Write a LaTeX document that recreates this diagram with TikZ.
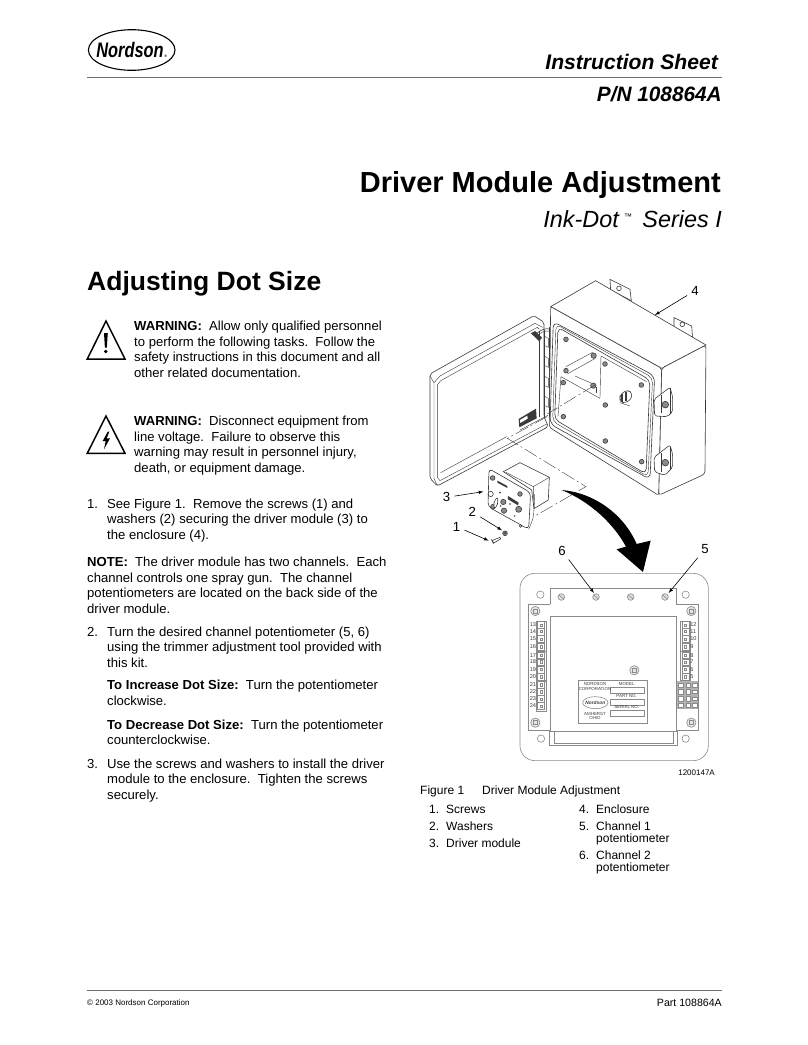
\documentclass[tikz,border=0pt]{standalone}
\usepackage{fontspec}
\setmainfont{Liberation Sans}
\usetikzlibrary{positioning}
\usetikzlibrary{arrows}
\definecolor{inkgray}{HTML}{3a3a3a}
\definecolor{rulegray}{HTML}{6e6e6e}
\definecolor{panelgray}{HTML}{8a8a8a}
\tikzset {
  % running text, one node per line
  body/.style={anchor=base west, inner sep=0pt, font=\fontsize{13.1}{16}\selectfont},
  capt/.style={anchor=base west, inner sep=0pt, font=\fontsize{12}{15}\selectfont},
  head/.style={anchor=base east, inner sep=0pt},
  callout/.style={inner sep=4pt, font=\fontsize{13.2}{16}\selectfont},
  % line work of the drawing
  ink/.style={draw=inkgray, line width=0.6pt},
  thinink/.style={draw=inkgray, line width=0.4pt},
  pointer/.style={-latex, draw=black, line width=0.6pt},
  centerline/.style={draw=inkgray, line width=0.4pt, dash pattern=on 14pt off 3pt on 2pt off 3pt},
  panel/.style={draw=panelgray, line width=0.6pt},
  % terminal of the strips in the lower drawing
  term/.style={draw=panelgray, line width=0.4pt, minimum size=7.2pt, inner sep=0pt,
    path picture={\draw[panelgray, line width=0.3pt] (path picture bounding box.center) +(-1.3pt,-1.3pt) rectangle +(1.3pt,1.3pt);}},
  tnum/.style={inner sep=0pt, text=inkgray, font=\fontsize{5.6}{6}\selectfont},
  plate/.style={inner sep=0pt, text=inkgray, font=\fontsize{4.4}{6}\selectfont},
}
\begin{document}
\begin{tikzpicture}[x=1pt,y=-1pt]
  \useasboundingbox (0,0) rectangle (808,1045);

  % header
  \node[inner sep=0pt, font=\bfseries\itshape\fontsize{21}{21}\selectfont] (logo) at (131.7,50)
    {\scalebox{0.78}[1]{Nordson}{\fontsize{3.6}{4}\selectfont\,®}};
  \draw[black, line width=1.1pt] (logo.center) ellipse [x radius=43.3, y radius=20.3];
  \draw[rulegray, line width=0.8pt] (87,77) -- (722,77);
  \node[head, font=\bfseries\itshape\fontsize{21.1}{24}\selectfont] (sheet) at (718,69) {Instruction Sheet};
  \node[head, font=\bfseries\itshape\fontsize{20.8}{24}\selectfont] (pn) at (722,101) {P/N 108864A};
  \node[head, font=\bfseries\fontsize{29}{32}\selectfont] (title) at (721,192) {Driver Module Adjustment};
  \node[head, font=\itshape\fontsize{23.4}{26}\selectfont] (subtitle) at (722,227) {Ink-Dot\,\raisebox{8pt}{\fontsize{8}{8}\selectfont\,™}\, Series I};
  \node[anchor=base west, inner sep=0pt, font=\bfseries\fontsize{26.5}{30}\selectfont] (section) at (87,290) {Adjusting Dot Size};

  % warning signs
  \draw[black, line width=1.5pt, line join=miter] (106,321) -- (125,359) -- (87.3,359) -- cycle;
  \fill[black] (104,333) -- (107.8,333) -- (106.8,347.5) -- (104.9,347.5) -- cycle;
  \fill[black] (105.8,351.5) circle (1.9);
  \draw[black, line width=1.5pt, line join=miter] (106,416) -- (125,453.3) -- (87.3,453.3) -- cycle;
  \fill[black] (107.7,431.7) -- (102.7,441) -- (105.7,441) -- (104,449.3) -- (110,438.3) -- (106.7,438.3) -- (109.3,431.7) -- cycle;

  % left column
  \node[body] (w1) at (134,330.5) {\textbf{WARNING:}\ \ Allow only qualified personnel};
  \node[body] (w2) at (134,346) {to perform the following tasks.\ \ Follow the};
  \node[body] (w3) at (134,361.5) {safety instructions in this document and all};
  \node[body] (w4) at (134,377) {other related documentation.};
  \node[body] (d1) at (134,425.5) {\textbf{WARNING:}\ \ Disconnect equipment from};
  \node[body] (d2) at (134,441) {line voltage.\ \ Failure to observe this};
  \node[body] (d3) at (134,456.5) {warning may result in personnel injury,};
  \node[body] (d4) at (134,472) {death, or equipment damage.};
  \node[body] (n1) at (87,508) {1.};
  \node[body] (s1) at (107,508) {See Figure 1.\ \ Remove the screws (1) and};
  \node[body] (s1b) at (107,523.5) {washers (2) securing the driver module (3) to};
  \node[body] (s1c) at (107,539) {the enclosure (4).};
  \node[body] (note1) at (87,566.5) {\textbf{NOTE:}\ \ The driver module has two channels.\ \ Each};
  \node[body] (note2) at (87,582) {channel controls one spray gun.\ \ The channel};
  \node[body] (note3) at (87,597.5) {potentiometers are located on the back side of the};
  \node[body] (note4) at (87,613) {driver module.};
  \node[body] (n2) at (87,636) {2.};
  \node[body] (s2) at (107,636) {Turn the desired channel potentiometer (5, 6)};
  \node[body] (s2b) at (107,651.5) {using the trimmer adjustment tool provided with};
  \node[body] (s2c) at (107,667) {this kit.};
  \node[body] (inc1) at (107,689) {\textbf{To Increase Dot Size:}\ \ Turn the potentiometer};
  \node[body] (inc2) at (107,705) {clockwise.};
  \node[body] (dec1) at (107,729) {\textbf{To Decrease Dot Size:}\ \ Turn the potentiometer};
  \node[body] (dec2) at (107,744.5) {counterclockwise.};
  \node[body] (n3) at (87,768) {3.};
  \node[body] (s3) at (107,768) {Use the screws and washers to install the driver};
  \node[body] (s3b) at (107,783.5) {module to the enclosure.\ \ Tighten the screws};
  \node[body] (s3c) at (107,799) {securely.};

  % caption
  \node[capt] (fig) at (420,794) {Figure 1};
  \node[capt] (figtitle) at (482,794) {Driver Module Adjustment};
  \node[capt] (c1) at (429,813.5) {1.};
  \node[capt] (c1t) at (446,813.5) {Screws};
  \node[capt] (c2) at (429,830.5) {2.};
  \node[capt] (c2t) at (446,830.5) {Washers};
  \node[capt] (c3) at (429,847.3) {3.};
  \node[capt] (c3t) at (446,847.3) {Driver module};
  \node[capt] (c4) at (579,813.5) {4.};
  \node[capt] (c4t) at (596,813.5) {Enclosure};
  \node[capt] (c5) at (579,830.5) {5.};
  \node[capt] (c5t) at (596,830.5) {Channel 1};
  \node[capt] (c5u) at (596,842.5) {potentiometer};
  \node[capt] (c6) at (579,859.3) {6.};
  \node[capt] (c6t) at (596,859.3) {Channel 2};
  \node[capt] (c6u) at (596,871.3) {potentiometer};
  \node[anchor=base east, inner sep=0pt, font=\fontsize{8}{10}\selectfont] (partcode) at (715,775) {1200147A};

  % footer
  \draw[rulegray, line width=0.8pt] (87,990) -- (722,990);
  \node[anchor=base west, inner sep=0pt, font=\fontsize{8}{10}\selectfont] (copy) at (87,1005) {© 2003 Nordson Corporation};
  \node[anchor=base east, inner sep=0pt, font=\fontsize{10.6}{12}\selectfont] (part) at (722,1006) {Part 108864A};

  % upper drawing, in steps of a third of a pixel
  \begin{scope}[shift={(420,270)},x=0.3333pt,y=-0.3333pt]
    % mounting tabs behind the box
    \draw[ink, fill=white] (570,28) -- (630,58) -- (634,92) -- (572,60) -- cycle;
    \draw[ink] (597,55) circle (7);
    \draw[ink, fill=white] (762,143) -- (815,168) -- (818,205) -- (762,175) -- cycle;
    \draw[ink] (787,163) circle (7);
    % door
    \draw[ink, fill=white, rounded corners=2pt] (30,312) -- (342,137) -- (372,157) -- (372,440) -- (385,470) -- (52,648) -- (30,625) -- cycle;
    \draw[thinink] (42,338) -- (60,318) -- (345,160) -- (368,172);
    \draw[thinink] (30,318) -- (42,338) -- (42,625) -- (52,648);
    \draw[thinink] (52,345) -- (62,332) -- (352,172) -- (358,178);
    \draw[thinink] (52,345) -- (52,622) -- (60,632) -- (380,462);
    \draw[thinink] (62,608) -- (260,500);
    \draw[thinink] (300,480) -- (384,436);
    \fill[inkgray] (296,447) -- (348,416) -- (350,445) -- (298,472) -- cycle;
    \fill[white] (300,450) -- (322,437) -- (323,446) -- (301,459) -- cycle;
    % hinge side of the door
    \draw[thinink] (358,182) -- (358,440);
    \draw[ink] (372,180) -- (372,440);
    \draw[thinink] (387,170) -- (387,445);
    \draw[thinink] (372,198) -- (385,205) -- (385,232) -- (372,226);
    \draw[thinink] (372,258) -- (385,265) -- (385,292) -- (372,286);
    \draw[thinink] (372,318) -- (385,325) -- (385,352) -- (372,346);
    \draw[thinink] (372,378) -- (385,385) -- (385,412) -- (372,406);
    \draw[ink] (345,195) .. controls (370,170) and (395,170) .. (410,195);
    \draw[thinink] (347,200) .. controls (370,178) and (395,178) .. (405,197);
    \fill[inkgray] (333,190) -- (345,183) -- (366,203) -- (358,214) -- cycle;
    % box
    \draw[ink, fill=white] (392,110) -- (527,32) -- (858,225) -- (725,295) -- cycle;
    \draw[ink, fill=white, rounded corners=3pt] (725,295) -- (858,225) -- (855,612) -- (716,676) -- cycle;
    \draw[ink, fill=white, rounded corners=2pt] (392,110) -- (725,295) -- (716,676) -- (388,472) -- cycle;
    % gasket and opening
    \draw[ink, rounded corners=6pt] (400,155) -- (704,318) -- (690,628) -- (390,462) -- cycle;
    \draw[thinink, rounded corners=5pt] (408,163) -- (698,323) -- (684,620) -- (398,454) -- cycle;
    \draw[ink, rounded corners=5pt] (414,172) -- (690,330) -- (678,612) -- (404,448) -- cycle;
    % plate with standoffs and knob
    \draw[thinink] (543,258) -- (680,335) (543,258) -- (540,385) (423,320) -- (540,385) (423,320) -- (414,440);
    \draw[thinink] (438,290) -- (518,247) (442,312) -- (526,265);
    \draw[thinink] (465,318) -- (515,340);
    \draw[thinink] (528,350) -- (528,370);
    \draw[ink, fill=panelgray] (438,302) circle (7);
    \draw[ink, fill=panelgray] (521,257) circle (8);
    \draw[ink, fill=panelgray] (520,347) circle (8);
    \draw[ink, fill=panelgray] (438,208) circle (7);
    \draw[ink, fill=panelgray] (555,282) circle (7);
    \draw[ink, fill=panelgray] (664,345) circle (7);
    \draw[ink, fill=panelgray] (430,338) circle (7);
    \draw[ink, fill=panelgray] (430,440) circle (7);
    \draw[ink, fill=panelgray] (556,405) circle (7);
    \draw[ink, fill=panelgray] (556,513) circle (7);
    \draw[ink, fill=panelgray] (665,575) circle (7);
    \draw[ink, fill=white, rounded corners=3pt] (600,375) -- (620,360) -- (636,368) -- (634,388) -- (612,400) -- (600,392) -- cycle;
    \draw[inkgray, line width=1.4pt] (606,372) -- (606,396) (618,366) -- (618,392);
    \draw[thinink] (600,398) -- (630,408);
    % latches on the right
    \draw[ink, fill=white, rounded corners=2pt] (702,388) -- (750,352) -- (758,380) -- (758,425) -- (742,440) -- (704,438) -- cycle;
    \draw[thinink] (725,375) -- (725,430) (750,355) -- (750,432);
    \draw[ink, fill=panelgray] (736,404) circle (10);
    \draw[ink, fill=white, rounded corners=2pt] (702,562) -- (750,525) -- (758,552) -- (758,592) -- (735,616) -- (704,606) -- cycle;
    \draw[thinink] (725,550) -- (725,605) (750,530) -- (750,600);
    \draw[ink, fill=panelgray] (736,578) circle (10);
    % center lines
    \draw[centerline] (525,345) -- (382,432);
    \draw[centerline] (382,440) -- (262,505) -- (498,650) -- (345,738);
    % driver module
    \draw[ink, fill=white] (250,605) -- (300,578) -- (388,622) -- (385,690) -- (342,716) -- (335,660) -- cycle;
    \draw[thinink] (258,607) -- (340,650) -- (388,622);
    \draw[thinink] (340,650) -- (342,716);
    \draw[ink, fill=white, rounded corners=4pt] (207,596) -- (332,668) -- (326,778) -- (204,710) -- cycle;
    \draw[thinink, rounded corners=4pt] (340,666) -- (345,675) -- (340,745) -- (326,778);
    \draw[ink, fill=panelgray] (218,624) circle (7);
    \draw[ink, fill=panelgray] (300,672) circle (7);
    \draw[ink, fill=panelgray] (219,710) circle (7);
    \draw[ink] (302,768) circle (4);
    \draw[ink] (212,672) circle (8);
    \fill[inkgray] (232,632) -- (262,648) -- (262,654) -- (232,638) -- cycle;
    \fill[inkgray] (264,678) -- (296,698) -- (294,706) -- (264,688) -- cycle;
    \draw[ink, fill=white, rounded corners=2pt] (222,692) -- (234,682) -- (232,708) -- (222,716) -- cycle;
    \draw[ink, fill=panelgray] (250,696) circle (8);
    \draw[ink, fill=panelgray] (252,722) circle (8);
    \draw[ink, fill=panelgray] (296,718) circle (9);
    \fill[inkgray] (240,668) circle (3);
    \fill[inkgray] (242,708) circle (2.5);
    \fill[inkgray] (270,702) circle (2.5);
    \fill[inkgray] (284,738) circle (2.5);
    % washer and screw
    \draw[ink, fill=panelgray] (255,790) circle (7);
    \draw[ink, fill=white] (255,790) circle (3);
    \draw[ink] (216,812) -- (240,802) -- (242,807) -- (220,820) -- cycle;
    \draw[ink] (214,808) -- (222,820);
    % big arrow
    \fill[black] (425,660) .. controls (520,668) and (610,730) .. (650,822) -- (692,812) -- (669,906) -- (590,838) -- (618,830) .. controls (580,760) and (510,695) .. (425,660) -- cycle;
    % callouts
    \node[callout] (lbl4) at (825,62) {4};
    \node[callout] (lbl3) at (80,682) {3};
    \node[callout] (lbl2) at (157,726) {2};
    \node[callout] (lbl1) at (110,770) {1};
    \coordinate (end4) at (705,135);
    \coordinate (end3) at (190,665);
    \coordinate (end2) at (246,781);
    \coordinate (end1) at (206,812);
    \draw[pointer] (lbl4) -- (end4);
    \draw[pointer] (lbl3) -- (end3);
    \draw[pointer] (lbl2) -- (end2);
    \draw[pointer] (lbl1) -- (end1);
  \end{scope}

  % lower drawing, in steps of a third of a pixel
  \begin{scope}[shift={(500,560)},x=0.3333pt,y=-0.3333pt]
    \draw[panel, rounded corners=15pt] (60,40) rectangle (625,602);
    \draw[panel] (150,132) -- (150,85) -- (530,85) -- (530,132) -- (595,132) -- (595,510) -- (530,510);
    \draw[panel] (150,132) -- (85,132) -- (85,510) -- (150,510);
    \draw[panel] (150,168) rectangle (530,515);
    \draw[panel] (148,513) rectangle (533,555);
    \draw[panel] (163,513) -- (163,550) -- (519,550) -- (519,513);
    % plain holes
    \draw[panel] (121,104) circle (11);
    \draw[panel] (557,104) circle (11);
    \draw[panel] (123,536) circle (11);
    \draw[panel] (557,536) circle (11);
    % screws along the top
    \draw[panel, fill=black!12] (184,111) circle (10);
    \draw[panel] (178,106) -- (191,117);
    \draw[panel, fill=black!12] (288,111) circle (10);
    \draw[panel] (282,106) -- (295,117);
    \draw[panel, fill=black!12] (392,111) circle (10);
    \draw[panel] (386,106) -- (399,117);
    \draw[panel, fill=black!12] (495,111) circle (10);
    \draw[panel] (489,106) -- (502,117);
    % posts
    \draw[panel, fill=black!10] (106,153) circle (14);
    \draw[panel] (100,147) rectangle (112,159);
    \draw[panel, fill=black!10] (574,153) circle (14);
    \draw[panel] (568,147) rectangle (580,159);
    \draw[panel, fill=black!10] (106,488) circle (14);
    \draw[panel] (100,482) rectangle (112,494);
    \draw[panel, fill=black!10] (574,488) circle (14);
    \draw[panel] (568,482) rectangle (580,494);
    \draw[panel, fill=black!10] (403,331) circle (14);
    \draw[panel] (397,325) rectangle (409,337);
    % left terminal strip
    \draw[panel, line width=0.8pt] (108,184) rectangle (138,273);
    \draw[panel, line width=0.8pt] (108,275) rectangle (138,361);
    \draw[panel, line width=0.8pt] (108,363) rectangle (138,453);
    \node[term, label={[tnum, label distance=1pt]left:13}] (t13) at (123,195) {};
    \node[term, label={[tnum, label distance=1pt]left:14}] (t14) at (123,214) {};
    \node[term, label={[tnum, label distance=1pt]left:15}] (t15) at (123,237) {};
    \node[term, label={[tnum, label distance=1pt]left:16}] (t16) at (123,260) {};
    \node[term, label={[tnum, label distance=1pt]left:17}] (t17) at (123,286) {};
    \node[term, label={[tnum, label distance=1pt]left:18}] (t18) at (123,305) {};
    \node[term, label={[tnum, label distance=1pt]left:19}] (t19) at (123,328) {};
    \node[term, label={[tnum, label distance=1pt]left:20}] (t20) at (123,350) {};
    \node[term, label={[tnum, label distance=1pt]left:21}] (t21) at (123,374) {};
    \node[term, label={[tnum, label distance=1pt]left:22}] (t22) at (123,395) {};
    \node[term, label={[tnum, label distance=1pt]left:23}] (t23) at (123,417) {};
    \node[term, label={[tnum, label distance=1pt]left:24}] (t24) at (123,438) {};
    % right terminal strip
    \draw[panel, line width=0.8pt] (541,184) rectangle (571,273);
    \draw[panel, line width=0.8pt] (541,275) rectangle (571,362);
    \node[term, label={[tnum, label distance=1pt]right:12}] (t12) at (556,195) {};
    \node[term, label={[tnum, label distance=1pt]right:11}] (t11) at (556,214) {};
    \node[term, label={[tnum, label distance=1pt]right:10}] (t10) at (556,237) {};
    \node[term, label={[tnum, label distance=1pt]right:9}] (t9) at (556,260) {};
    \node[term, label={[tnum, label distance=1pt]right:8}] (t8) at (556,286) {};
    \node[term, label={[tnum, label distance=1pt]right:7}] (t7) at (556,306) {};
    \node[term, label={[tnum, label distance=1pt]right:6}] (t6) at (556,328) {};
    \node[term, label={[tnum, label distance=1pt]right:5}] (t5) at (556,350) {};
    % block under the right strip
    \fill[black!30] (532,364) rectangle (595,446);
    \foreach \ypos in {376,396,416,436} {
      \draw[panel, fill=white] (536,\ypos-7) rectangle (549,\ypos+7);
      \draw[panel, fill=white] (558,\ypos-7) rectangle (571,\ypos+7);
      \draw[panel, fill=white] (576,\ypos-5) rectangle (591,\ypos+5);
    }
    % name plate
    \draw[panel, line width=0.9pt] (236,362) rectangle (442,490);
    \draw[panel] (330,382) rectangle (432,400);
    \draw[panel] (330,417) rectangle (432,435);
    \draw[panel] (330,450) rectangle (432,470);
    \node[plate] (pl1) at (285,372) {NORDSON};
    \node[plate] (pl2) at (285,387) {CORPORATION};
    \node[plate] (pl3) at (380,372) {MODEL};
    \node[plate] (pl4) at (380,407) {PART NO.};
    \node[plate] (pl5) at (380,441) {SERIAL NO.};
    \node[plate] (pl6) at (285,461) {AMHERST};
    \node[plate] (pl7) at (285,473) {OHIO};
    \node[inner sep=0pt, font=\bfseries\itshape\fontsize{4.8}{6}\selectfont, text=inkgray] (pllogo) at (286,428) {Nordson};
    \draw[panel] (pllogo.center) ellipse [x radius=38, y radius=18];
    % callouts
    \node[callout] (lbl6) at (186,-28) {6};
    \node[callout] (lbl5) at (615,-33) {5};
    \coordinate (end6) at (282,99);
    \coordinate (end5) at (506,99);
    \draw[pointer] (lbl6) -- (end6);
    \draw[pointer] (lbl5) -- (end5);
  \end{scope}
\end{tikzpicture}
\end{document}
